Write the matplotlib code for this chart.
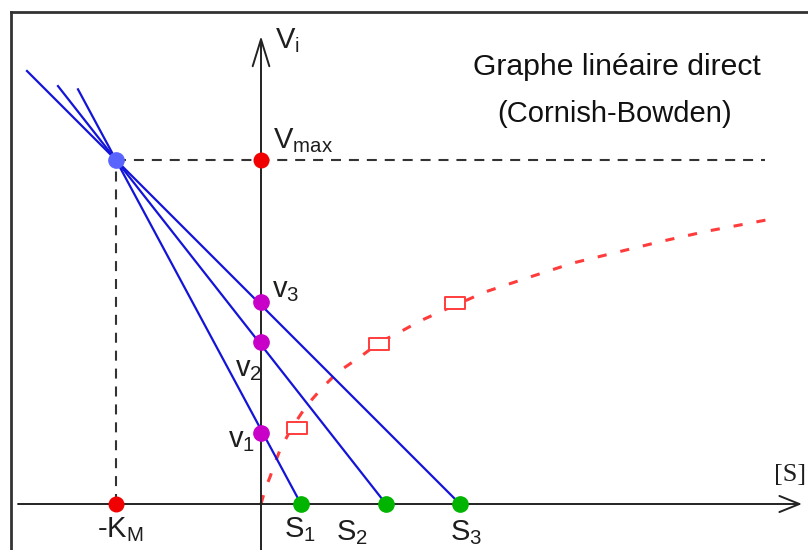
import matplotlib
matplotlib.use("Agg")
import matplotlib.pyplot as plt
from matplotlib.lines import Line2D

plt.rcParams['font.family'] = ['Liberation Sans', 'DejaVu Sans']

# drawing units: 1 unit = 1 pixel, origin where the two axes cross
# substrate concentrations on the [S] axis and the measured rates on the v axis
S = [40, 125, 199]
v = [71, 162, 202]
# common intersection of the lines (-Km, Vmax)
km_x = -145
vmax = 344
# where each line stops at the upper left
line_end_x = [-183, -203, -234]

# rate curve v = f([S]) (dashed red)
curve_s = [0, 2, 5, 9, 14, 19, 30, 46, 62, 77, 99, 119, 139, 159, 181, 206,
           224, 269, 312, 357, 402, 447, 516]
curve_v = [0, 7, 17, 27, 41, 54, 75, 99, 117, 132, 147, 162, 172, 183, 193, 204,
           212, 227, 241, 252, 263, 273, 286]
# open squares (measured points)
square_s = [36, 118, 194]
square_v = [76, 160, 201]

line_blue = '#1414d8'
dot_red = '#f00000'
dot_green = '#00b400'
dot_magenta = '#c800c8'
dot_blue = '#5a64ff'
curve_red = '#ff3c3c'
axis_col = '#222222'
text_col = '#1e1e1e'

fig = plt.figure(figsize=(8.08, 5.5), dpi=100)
ax = fig.add_axes([0, 0, 1, 1])
ax.set_xlim(-261, 547)
ax.set_ylim(-46, 504)
ax.axis('off')

# frame (top and left edges only are visible)
fig.add_artist(Line2D([11 / 808, 1], [1 - 12 / 550, 1 - 12 / 550], color='#333333', lw=2, transform=fig.transFigure))
fig.add_artist(Line2D([11 / 808, 11 / 808], [0, 1 - 12 / 550], color='#333333', lw=2, transform=fig.transFigure))

# axes with open arrow heads
ax.annotate('', xy=(0, 468), xytext=(0, -46),
            arrowprops=dict(arrowstyle='->,head_length=0.97,head_width=0.3', lw=1.4, color=axis_col,
                            mutation_scale=20, shrinkA=0, shrinkB=0), zorder=2)
ax.annotate('', xy=(541, 0), xytext=(-243, 0),
            arrowprops=dict(arrowstyle='->,head_length=0.72,head_width=0.29', lw=1.4, color=axis_col,
                            mutation_scale=20, shrinkA=0, shrinkB=0), zorder=2)

# black dashed guide lines
ax.plot([km_x, 504], [vmax, vmax], color='#333333', lw=1.5, dashes=(4.8, 3.8), zorder=1)
ax.plot([km_x, km_x], [0, vmax], color='#333333', lw=1.5, dashes=(4.8, 3.8), zorder=1)

# dashed rate curve and squares
ax.plot(curve_s, curve_v, color=curve_red, lw=2.2, dashes=(3.0, 4.6), zorder=1)
rect = [(-1.5, -1), (1.5, -1), (1.5, 1), (-1.5, 1), (-1.5, -1)]
ax.plot(square_s, square_v, ls='none', marker=rect, ms=14, mfc='white', mec=curve_red, mew=1.4, zorder=4)

# direct linear plot lines: from (S, 0) through the intersection point
for s, xe in zip(S, line_end_x):
    slope = vmax / (km_x - s)
    ax.plot([s, xe], [0, slope * (xe - s)], color=line_blue, lw=1.6, zorder=3)

# points
ax.plot(S, [0] * len(S), 'o', color=dot_green, ms=11, zorder=5)
ax.plot([0] * len(v), v, 'o', color=dot_magenta, ms=11, zorder=5)
ax.plot([0, km_x], [vmax, 0], 'o', color=dot_red, ms=10.5, zorder=5)
ax.plot([km_x], [vmax], 'o', color=dot_blue, ms=11, zorder=5)

# labels
fs = 21
ax.text(14, 456, r'$\mathregular{V_i}$', fontsize=fs, color=text_col, va='baseline')
ax.text(12, 356, r'$\mathregular{V_{max}}$', fontsize=fs, color=text_col, va='baseline')
ax.text(11, 207, r'$\mathregular{v_3}$', fontsize=fs, color=text_col, va='baseline')
ax.text(-26, 128, r'$\mathregular{v_2}$', fontsize=fs, color=text_col, va='baseline')
ax.text(-33, 57, r'$\mathregular{v_1}$', fontsize=fs, color=text_col, va='baseline')
ax.text(-164, -33, r'-$\mathregular{K_M}$', fontsize=fs, color=text_col, va='baseline')
for i, (xl, yl) in enumerate([(23, -33), (75, -36), (189, -36)]):
    ax.text(xl, yl, r'$\mathregular{S_%d}$' % (i + 1), fontsize=fs, color=text_col, va='baseline')
ax.text(529, 23, '[S]', fontsize=19, family='Liberation Serif', color=text_col, ha='center', va='baseline')

ax.text(356, 429, 'Graphe linéaire direct', fontsize=21.7, color='#111111', ha='center', va='baseline')
ax.text(354, 382, '(Cornish-Bowden)', fontsize=fs, color='#111111', ha='center', va='baseline')

fig.savefig('out.png', dpi=100)
